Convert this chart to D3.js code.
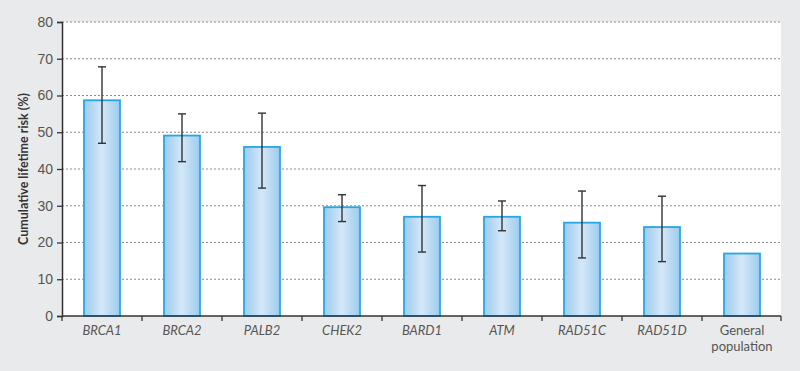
<!DOCTYPE html>
<html><head><meta charset="utf-8">
<script src="https://cdn.jsdelivr.net/npm/d3@7"></script>
<style>
html,body{margin:0;padding:0;background:#e9eaeb;}
svg{display:block;font-family:Lato,"Open Sans",sans-serif;}
</style></head>
<body><svg id="c" width="800" height="371"></svg>
<script>
const categories = ["BRCA1","BRCA2","PALB2","CHEK2","BARD1","ATM","RAD51C","RAD51D","General population"];
const riskValues = [58.7, 49.1, 46.0, 29.6, 27.0, 27.0, 25.4, 24.2, 17.0];
const errLower = [47.0, 42.0, 34.8, 25.7, 17.4, 23.2, 15.8, 14.8, null];
const errUpper = [67.8, 55.0, 55.2, 33.0, 35.5, 31.3, 34.0, 32.6, null];
const yTicks = [0,10,20,30,40,50,60,70,80];
const italicCats = [true,true,true,true,true,true,true,true,false];

const svg = d3.select("#c");
const m = {l:62, r:782, t:22, b:316};
const x = d3.scaleBand().domain(categories).range([m.l, m.r]).paddingInner(0.54).paddingOuter(0.27);
const y = d3.scaleLinear().domain([0,80]).range([m.b, m.t]);

const defs = svg.append("defs");
const g = defs.append("linearGradient").attr("id","barGrad").attr("x1","0").attr("x2","1").attr("y1","0").attr("y2","0");
g.append("stop").attr("offset","0%").attr("stop-color","#9ccbee");
g.append("stop").attr("offset","50%").attr("stop-color","#d3e8f8");
g.append("stop").attr("offset","100%").attr("stop-color","#9ccbee");

svg.append("rect").attr("width",800).attr("height",371).attr("fill","#e9eaeb");
svg.append("rect").attr("x",m.l).attr("y",m.t).attr("width",781-m.l).attr("height",m.b-m.t).attr("fill","#ffffff");

svg.append("g").selectAll("line").data(yTicks.filter(d=>d>0)).join("line")
  .attr("x1",m.l).attr("x2",781).attr("y1",d=>y(d)).attr("y2",d=>y(d))
  .attr("stroke","#8c8c8c").attr("stroke-width",1).attr("stroke-dasharray","2,2");

const bw = 36;
svg.append("g").selectAll("rect").data(categories).join("rect")
  .attr("x",(d)=>x(d)+x.bandwidth()/2-bw/2)
  .attr("y",(d,i)=>y(riskValues[i]))
  .attr("width",bw)
  .attr("height",(d,i)=>y(0)-y(riskValues[i]))
  .attr("fill","url(#barGrad)").attr("stroke","#27a7e1").attr("stroke-width",1.8);

const eb = svg.append("g").attr("stroke","#333").attr("stroke-width",1.4);
categories.forEach((c,i)=>{
  if(errLower[i]==null) return;
  const cx = x(c)+x.bandwidth()/2;
  eb.append("line").attr("x1",cx).attr("x2",cx).attr("y1",y(errUpper[i])).attr("y2",y(errLower[i]));
  eb.append("line").attr("x1",cx-4).attr("x2",cx+4).attr("y1",y(errUpper[i])).attr("y2",y(errUpper[i]));
  eb.append("line").attr("x1",cx-4).attr("x2",cx+4).attr("y1",y(errLower[i])).attr("y2",y(errLower[i]));
});

const ya = svg.append("g").attr("transform",`translate(${m.l},0)`)
  .call(d3.axisLeft(y).tickValues(yTicks).tickSize(5).tickPadding(4));
ya.select(".domain").attr("stroke","#333").attr("stroke-width",1.5);
ya.selectAll(".tick line").attr("stroke","#333").attr("stroke-width",1.3);
ya.selectAll(".tick text").attr("fill","#555").style("font-size","14px");

const xa = svg.append("g").attr("transform",`translate(0,${m.b})`);
xa.append("line").attr("x1",m.l).attr("x2",781).attr("y1",0).attr("y2",0).attr("stroke","#333").attr("stroke-width",1.5);
const bounds = d3.range(categories.length+1).map(i=>m.l + i*(m.r-m.l)/categories.length);
xa.selectAll("line.tk").data(bounds).join("line").attr("class","tk")
  .attr("x1",d=>Math.min(d,781)).attr("x2",d=>Math.min(d,781)).attr("y1",0).attr("y2",5)
  .attr("stroke","#333").attr("stroke-width",1.3);
categories.forEach((c,i)=>{
  const cx = x(c)+x.bandwidth()/2;
  const words = c==="General population" ? ["General","population"] : [c];
  const t = xa.append("text").attr("x",cx).attr("y",19).attr("text-anchor","middle")
    .attr("fill","#555").style("font-size","13px").style("font-style",italicCats[i]?"italic":"normal");
  words.forEach((w,j)=>t.append("tspan").attr("x",cx).attr("dy",j===0?0:16).text(w));
});

svg.append("text").attr("transform",`translate(28,${(m.t+m.b)/2}) rotate(-90)`)
  .attr("text-anchor","middle").attr("fill","#333").style("font-weight","bold").style("font-size","12.5px")
  .text("Cumulative lifetime risk (%)");
</script></body></html>
